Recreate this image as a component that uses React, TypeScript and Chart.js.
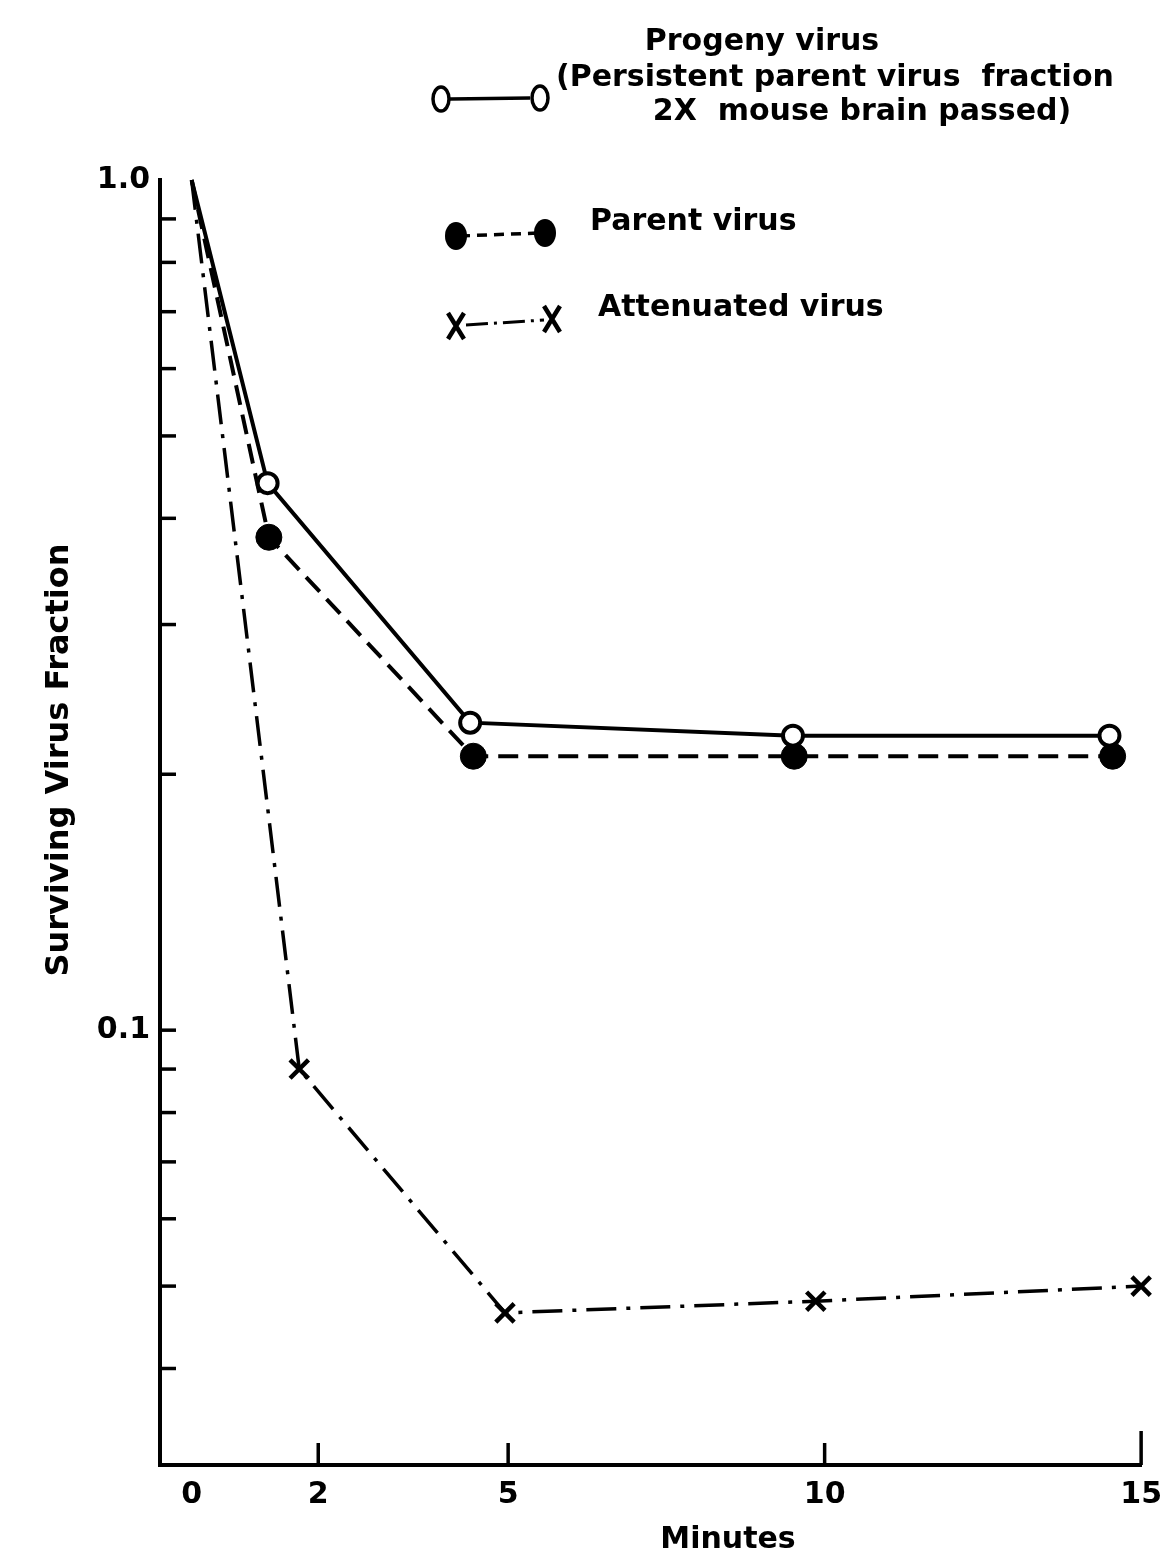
import React, { useEffect, useRef } from 'react';
import { Chart, registerables } from 'chart.js';

Chart.register(...registerables);

// ---- data ----
const minuteTicks = [0, 2, 5, 10, 15];
const fractionTicks = [1.0, 0.9, 0.8, 0.7, 0.6, 0.5, 0.4, 0.3, 0.2, 0.1, 0.09, 0.08, 0.07, 0.06, 0.05, 0.04];
const labeledFractions = ['1.0', '0.1'];

const progenyMinutes = [0, 1.2, 4.4, 9.5, 14.5];
const progenyFraction = [1.0, 0.44, 0.23, 0.222, 0.222];

const parentMinutes = [0, 1.22, 4.45, 9.52, 14.55];
const parentFraction = [1.0, 0.38, 0.21, 0.21, 0.21];

const attenuatedMinutes = [0, 1.7, 4.95, 9.86, 15];
const attenuatedFraction = [1.0, 0.09, 0.0465, 0.048, 0.05];

const xAxisTitle = 'Minutes';
const yAxisTitle = 'Surviving Virus Fraction';
const legendProgeny = ['Progeny virus', '(Persistent parent virus  fraction', '2X  mouse brain passed)'];
const legendParent = 'Parent virus';
const legendAttenuated = 'Attenuated virus';

const FONT = "'DejaVu Sans', 'Liberation Sans', sans-serif";

const toPoints = (xs: number[], ys: number[]) => xs.map((x, i) => ({ x, y: ys[i] }));

const annotate = {
  id: 'annotate',
  afterDraw(chart: any) {
    const ctx = chart.ctx as CanvasRenderingContext2D;
    const xs = chart.scales.x;
    const ys = chart.scales.y;
    const area = chart.chartArea;
    ctx.save();
    ctx.strokeStyle = '#000';
    ctx.fillStyle = '#000';
    ctx.lineWidth = 3.5;
    ctx.lineCap = 'butt';
    // inside tick marks on y
    fractionTicks.forEach((v) => {
      if (v >= 1) return;
      const py = ys.getPixelForValue(v);
      ctx.beginPath();
      ctx.moveTo(area.left, py);
      ctx.lineTo(area.left + 16, py);
      ctx.stroke();
    });
    // inside tick marks on x
    minuteTicks.forEach((v) => {
      if (v === 0) return;
      const px = xs.getPixelForValue(v);
      const len = v === 15 ? 34 : 22;
      ctx.beginPath();
      ctx.moveTo(px, area.bottom);
      ctx.lineTo(px, area.bottom - len);
      ctx.stroke();
    });

    // axis titles
    ctx.font = `bold 30px ${FONT}`;
    ctx.textAlign = 'center';
    ctx.textBaseline = 'middle';
    ctx.fillText(xAxisTitle, 728, 1540);
    ctx.save();
    ctx.translate(60, 760);
    ctx.rotate(-Math.PI / 2);
    ctx.font = `bold 32px ${FONT}`;
    ctx.fillText(yAxisTitle, 0, 0);
    ctx.restore();

    // legend
    ctx.font = `bold 30px ${FONT}`;
    ctx.textAlign = 'center';
    ctx.fillText(legendProgeny[0], 762, 42);
    ctx.textAlign = 'left';
    ctx.fillText(legendProgeny[1], 556, 78);
    ctx.textAlign = 'center';
    ctx.fillText(legendProgeny[2], 862, 112);
    ctx.textAlign = 'left';
    ctx.fillText(legendParent, 590, 222);
    ctx.fillText(legendAttenuated, 598, 308);

    // progeny sample
    ctx.lineWidth = 3.5;
    ctx.setLineDash([]);
    ctx.beginPath();
    ctx.moveTo(450, 99);
    ctx.lineTo(530, 98);
    ctx.stroke();
    [[441, 99], [540, 98]].forEach(([cx, cy]) => {
      ctx.beginPath();
      ctx.ellipse(cx, cy, 8, 12, 0, 0, Math.PI * 2);
      ctx.fillStyle = '#fff';
      ctx.fill();
      ctx.stroke();
    });
    ctx.fillStyle = '#000';

    // parent sample
    ctx.setLineDash([10, 7]);
    ctx.beginPath();
    ctx.moveTo(460, 236);
    ctx.lineTo(540, 233);
    ctx.stroke();
    ctx.setLineDash([]);
    [[456, 236], [545, 233]].forEach(([cx, cy]) => {
      ctx.beginPath();
      ctx.ellipse(cx, cy, 11, 14, 0, 0, Math.PI * 2);
      ctx.fill();
    });

    // attenuated sample
    ctx.setLineDash([22, 6, 3, 6]);
    ctx.lineWidth = 3;
    ctx.beginPath();
    ctx.moveTo(466, 325);
    ctx.lineTo(544, 320);
    ctx.stroke();
    ctx.setLineDash([]);
    ctx.lineWidth = 4.5;
    [[456, 326], [552, 319]].forEach(([cx, cy]) => {
      ctx.beginPath();
      ctx.moveTo(cx - 8, cy - 13);
      ctx.lineTo(cx + 8, cy + 13);
      ctx.moveTo(cx + 8, cy - 13);
      ctx.lineTo(cx - 8, cy + 13);
      ctx.stroke();
    });
    ctx.restore();
  },
};

export default function App() {
  const ref = useRef<HTMLCanvasElement | null>(null);
  useEffect(() => {
    if (!ref.current) return;
    const chart = new Chart(ref.current, {
      type: 'line',
      data: {
        datasets: [
          {
            label: 'Progeny virus',
            data: toPoints(progenyMinutes, progenyFraction),
            borderColor: '#000',
            borderWidth: 4,
            backgroundColor: '#fff',
            pointBackgroundColor: '#fff',
            pointBorderColor: '#000',
            pointBorderWidth: 4,
            pointRadius: [0, 10, 10, 10, 10],
            pointStyle: 'circle',
            tension: 0,
            clip: false,
          },
          {
            label: 'Parent virus',
            data: toPoints(parentMinutes, parentFraction),
            borderColor: '#000',
            borderWidth: 4,
            borderDash: [20, 10],
            backgroundColor: '#000',
            pointBackgroundColor: '#000',
            pointBorderColor: '#000',
            pointBorderWidth: 1,
            pointRadius: [0, 13, 13, 13, 13],
            pointStyle: 'circle',
            tension: 0,
            clip: false,
          },
          {
            label: 'Attenuated virus',
            data: toPoints(attenuatedMinutes, attenuatedFraction),
            borderColor: '#000',
            borderWidth: 3.5,
            borderDash: [30, 10, 4, 10],
            backgroundColor: '#000',
            pointBorderColor: '#000',
            pointBorderWidth: 4.5,
            pointRadius: [0, 13, 13, 13, 13],
            pointStyle: 'crossRot',
            tension: 0,
            clip: false,
          },
        ],
      },
      options: {
        animation: false,
        responsive: false,
        layout: { padding: { top: 180, right: 24, bottom: 0, left: 0 } },
        plugins: { legend: { display: false }, tooltip: { enabled: false }, title: { display: false } },
        scales: {
          x: {
            type: 'linear',
            min: -0.5,
            max: 15,
            grid: { display: false, drawTicks: false },
            border: { display: true, color: '#000', width: 4 },
            ticks: {
              autoSkip: false,
              color: '#000',
              padding: 12,
              font: { family: FONT, size: 30, weight: 'bold' },
              callback: (v: any) => String(v),
            },
            afterBuildTicks: (s: any) => {
              s.ticks = minuteTicks.map((v) => ({ value: v }));
            },
            afterFit: (s: any) => {
              s.height = 98;
            },
          },
          y: {
            type: 'logarithmic',
            min: 0.0308,
            max: 1.0,
            grid: { display: false, drawTicks: false },
            border: { display: true, color: '#000', width: 4 },
            ticks: {
              autoSkip: false,
              color: '#000',
              padding: 10,
              font: { family: FONT, size: 30, weight: 'bold' },
              callback: (v: any) => {
                const s = Number(v).toFixed(1);
                return Math.abs(Number(v) - Number(s)) < 1e-9 && labeledFractions.includes(s) ? s : '';
              },
            },
            afterBuildTicks: (s: any) => {
              s.ticks = fractionTicks.map((v) => ({ value: v }));
            },
            afterFit: (s: any) => {
              s.width = 160;
            },
          },
        },
      },
      plugins: [annotate],
    });
    return () => chart.destroy();
  }, []);
  return (
    <div style={{ position: 'absolute', left: 0, top: 0, width: 1174, height: 1563, background: '#fff' }}>
      <canvas ref={ref} width={1174} height={1563} style={{ display: 'block' }} />
    </div>
  );
}
